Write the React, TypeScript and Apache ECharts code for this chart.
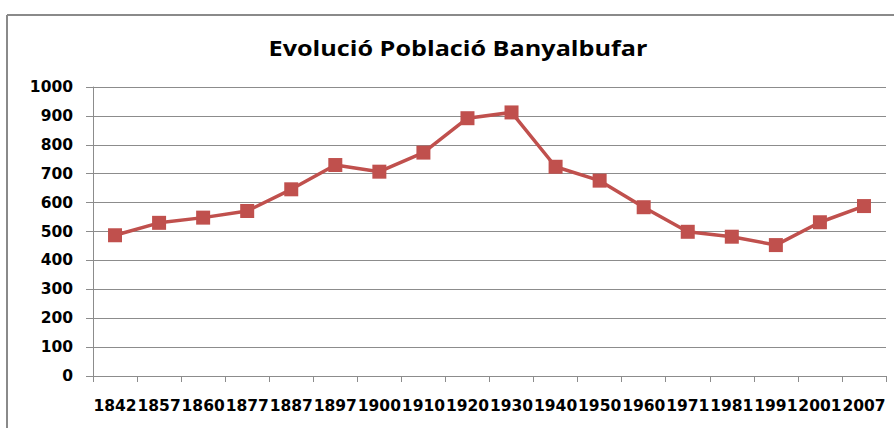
import React, { useEffect, useRef } from "react";
import * as echarts from "echarts";

const years = ["1842","1857","1860","1877","1887","1897","1900","1910","1920","1930","1940","1950","1960","1971","1981","1991","2001","2007"];
const population = [487, 530, 548, 571, 646, 730, 707, 773, 892, 912, 724, 676, 584, 499, 482, 453, 532, 588];
const title = "Evolució Població Banyalbufar";

export default function App() {
  const ref = useRef<HTMLDivElement>(null);
  useEffect(() => {
    if (!ref.current) return;
    const chart = echarts.init(ref.current, undefined, { renderer: "svg" });
    chart.setOption({
      animation: false,
      backgroundColor: "#ffffff",
      graphic: [
        { type: "line", shape: { x1: 7, y1: 15, x2: 894, y2: 15 }, style: { stroke: "#8a8a8a", lineWidth: 2 } },
        { type: "line", shape: { x1: 7, y1: 15, x2: 7, y2: 428 }, style: { stroke: "#8a8a8a", lineWidth: 2 } },
        {
          type: "text",
          x: 458,
          y: 48,
          scaleX: 1.2,
          style: {
            text: title,
            fontFamily: "Open Sans",
            fontWeight: "bold",
            fontSize: 21,
            fill: "#000",
            align: "center",
            verticalAlign: "middle",
          },
        },
      ],
      grid: { left: 93, right: 8, top: 87, bottom: 52, containLabel: false },
      xAxis: {
        type: "category",
        data: years,
        boundaryGap: true,
        axisLine: { lineStyle: { color: "#8c8c8c", width: 1 } },
        axisTick: { show: true, length: 6, alignWithLabel: false, lineStyle: { color: "#8c8c8c" } },
        axisLabel: { interval: 0, margin: 22, fontFamily: "DejaVu Sans", fontWeight: "bold", fontSize: 15.5, color: "#000" },
        splitLine: { show: false },
      },
      yAxis: {
        type: "value",
        min: 0,
        max: 1000,
        interval: 100,
        axisLine: { show: true, lineStyle: { color: "#8c8c8c", width: 1 } },
        axisTick: { show: true, length: 7, lineStyle: { color: "#8c8c8c" } },
        axisLabel: {
          margin: 20,
          formatter: (v: number) => String(v),
          fontFamily: "DejaVu Sans",
          fontWeight: "bold",
          fontSize: 15.5,
          color: "#000",
        },
        splitLine: { show: true, lineStyle: { color: "#8c8c8c", width: 1 } },
      },
      series: [
        {
          type: "line",
          data: population,
          symbol: "rect",
          symbolSize: 14,
          lineStyle: { color: "#C0504D", width: 3.5 },
          itemStyle: { color: "#C0504D" },
        },
      ],
    });
    return () => chart.dispose();
  }, []);
  return <div ref={ref} style={{ position: "absolute", left: 0, top: 0, width: 894, height: 428 }} />;
}
